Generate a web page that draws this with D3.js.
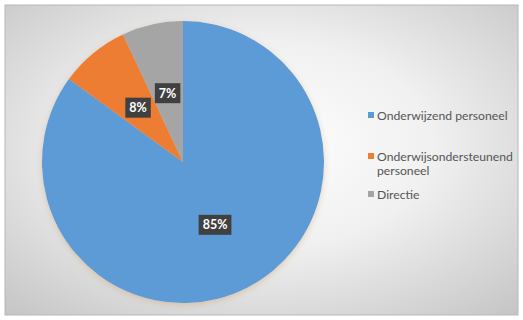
<!DOCTYPE html>
<html>
<head>
<meta charset="utf-8">
<script src="https://cdn.jsdelivr.net/npm/d3@7"></script>
<style>
	body { margin: 0; background: #fff; }
	svg { display: block; }
</style>
</head>
<body>
<div id="graphic-wrapper"></div>
<script>
const categories = ["Onderwijzend personeel", "Onderwijsondersteunend personeel", "Directie"]
const values = [85, 8, 7]
const legendLines = [["Onderwijzend personeel"], ["Onderwijsondersteunend", "personeel"], ["Directie"]]
const colors = ["#5B9BD5", "#ED7D31", "#A5A5A5"]

const WIDTH = 523
const HEIGHT = 320
const frame = { x: 5, y: 5, w: 513, h: 310 }
const pieCenter = { x: 183, y: 162 }
const RADIUS = 141

const svg = d3.select("#graphic-wrapper")
	.append("svg")
		.attr("width", WIDTH)
		.attr("height", HEIGHT)

const defs = svg.append("defs")
const grad = defs.append("radialGradient")
	.attr("id", "bg-grad")
	.attr("cx", "50%").attr("cy", "45%").attr("r", "75%")
grad.append("stop").attr("offset", "0%").attr("stop-color", "#ffffff")
grad.append("stop").attr("offset", "45%").attr("stop-color", "#f0f0f0")
grad.append("stop").attr("offset", "100%").attr("stop-color", "#c4c4c4")

const shadow = defs.append("filter").attr("id", "pie-shadow")
	.attr("x", "-10%").attr("y", "-10%").attr("width", "120%").attr("height", "120%")
shadow.append("feDropShadow")
	.attr("dx", 0).attr("dy", 2).attr("stdDeviation", 3)
	.attr("flood-color", "#c8a070").attr("flood-opacity", 0.45)

// chart frame
svg.append("rect")
	.attr("x", frame.x).attr("y", frame.y)
	.attr("width", frame.w).attr("height", frame.h)
	.attr("fill", "url(#bg-grad)")
	.attr("stroke", "#b8b8b8")
	.attr("stroke-width", 1)

const pie = d3.pie().sort(null).value(d => d)
const arcs = pie(values)

const arcGen = d3.arc().innerRadius(0).outerRadius(RADIUS)
const labelArc = d3.arc().innerRadius(RADIUS * 0.5).outerRadius(RADIUS * 0.5)

const pieG = svg.append("g")
	.attr("transform", `translate(${pieCenter.x},${pieCenter.y})`)

pieG.append("g")
	.attr("filter", "url(#pie-shadow)")
	.selectAll("path")
	.data(arcs)
	.join("path")
		.attr("d", arcGen)
		.attr("fill", (d, i) => colors[i])
		.attr("stroke", "none")

// data labels with dark boxes
const labelG = pieG.selectAll(".data-label")
	.data(arcs)
	.join("g")
		.attr("class", "data-label")
		.attr("transform", d => {
			const [x, y] = labelArc.centroid(d)
			return `translate(${x},${y})`
		})

labelG.each(function(d) {
	const g = d3.select(this)
	const txt = g.append("text")
		.attr("text-anchor", "middle")
		.attr("dominant-baseline", "central")
		.attr("fill", "#ffffff")
		.attr("font-family", "Lato, 'Open Sans', sans-serif")
		.attr("font-weight", "bold")
		.attr("font-size", 12.5)
		.text(d.data + "%")
	const bb = txt.node().getBBox()
	g.insert("rect", "text")
		.attr("x", bb.x - 4)
		.attr("y", -10)
		.attr("width", bb.width + 8)
		.attr("height", 20)
		.attr("fill", "#404040")
})

// legend
const legendX = 368
const legendRowsY = [115, 156, 194]
const lineHeight = 14

const legend = svg.append("g")
legendLines.forEach((lines, i) => {
	const row = legend.append("g").attr("transform", `translate(${legendX},${legendRowsY[i]})`)
	row.append("rect")
		.attr("x", 0).attr("y", -3)
		.attr("width", 6).attr("height", 6)
		.attr("fill", colors[i])
	const t = row.append("text")
		.attr("x", 9)
		.attr("fill", "#555555")
		.attr("font-family", "Lato, 'Open Sans', sans-serif")
		.attr("font-size", 12.2)
		.attr("dominant-baseline", "central")
	lines.forEach((ln, j) => {
		t.append("tspan")
			.attr("x", 9)
			.attr("y", j * lineHeight)
			.text(ln)
	})
})
</script>
</body>
</html>
